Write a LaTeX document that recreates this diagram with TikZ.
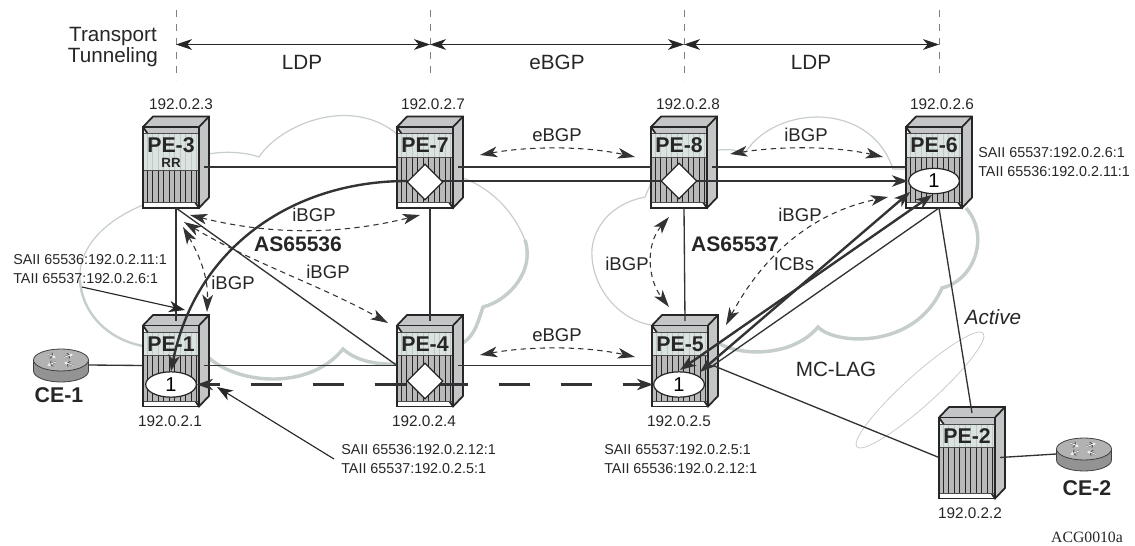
\documentclass[tikz,border=0pt]{standalone}
\usepackage{fontspec}
\setmainfont{Liberation Sans}
\newfontfamily\acgfont{Liberation Serif}
\usetikzlibrary{arrows.meta,shapes.geometric}

\definecolor{linkdark}{HTML}{333335}
\definecolor{cloudgray}{HTML}{C6CECB}
\definecolor{boxgray}{HTML}{C4C5C6}
\definecolor{boxlight}{HTML}{D9E3E0}

\newcommand{\pebox}[5][-10.5]{%
  \begin{scope}[shift={(#3,#4)}]
    \filldraw[boxline, fill=boxgray] (-28,-40.5) -- (-18,-51) -- (38,-51) -- (38,30) -- (28,40.5) -- cycle;
    \draw[boxline] (28,-40.5) -- (38,-51);
    \node[pebody] (#2) at (0,0) {};
    \fill[boxlight] (-27,-34) rectangle (27,#1);
    \fill[gray!55] (-27,#1) rectangle (27,35);
    \foreach \sx in {-24,-18.5,...,26} {
      \draw[line width=.35pt, gray!45] (\sx,-34) -- (\sx,#1);
      \draw[line width=.6pt, black!85] (\sx,#1) -- (\sx,35);
    }
    \draw[line width=.4pt, black!70] (-28,-34) -- (28,-34);
    \draw[line width=.4pt, black!70] (-28,#1) -- (28,#1);
    \draw[line width=.4pt, black!70] (-28,35) -- (28,35);
    \draw[boxline] (-28,-40.5) rectangle (28,40.5);
    \node[pelabel] (#2-name) at (0,-22) {#5};
    \coordinate (#2-top) at (5,-45);
    \coordinate (#2-bot) at (5,40.5);
    \coordinate (#2-port) at (33,-0.5);
    \coordinate (#2-left) at (-28,-0.5);
  \end{scope}}

\newcommand{\cerouter}[3]{%
  \begin{scope}[shift={(#2,#3)}]
    \draw[cedge, fill=gray!85] (0,6) ellipse [x radius=27.5, y radius=11];
    \fill[gray!85] (-27.5,-5) rectangle (27.5,6);
    \draw[cedge] (-27.5,-5) -- (-27.5,6) (27.5,-5) -- (27.5,6);
    \draw[cedge, fill=gray!60] (0,-5) ellipse [x radius=27.5, y radius=11];
    \foreach \ax/\ay/\bx/\by in {-14/-11/-5/-7.5, 3/-7.5/12/-11, -5/-3/-14/0.5, 12/0.5/3/-3} {
      \draw[line width=1.3pt, black!65, -{Stealth[length=4.5pt,width=5pt]}] (\ax,\ay) -- (\bx,\by);
      \draw[line width=.7pt, white!90!gray, -{Stealth[length=3pt,width=3.5pt]}] (\ax,\ay) -- (\bx,\by);
    }
    \node[cebody] (#1) at (0,0) {};
  \end{scope}}

\begin{document}
\begin{tikzpicture}[
  x=0.75pt, y=-0.75pt,
  boxline/.style={line width=1.3pt, draw=black!85},
  pebody/.style={rectangle, minimum width=42pt, minimum height=60.75pt, inner sep=0pt},
  pelabel/.style={font=\fontsize{16}{17}\selectfont\bfseries, text=black!85, inner sep=0pt},
  cebody/.style={rectangle, minimum width=41.25pt, minimum height=24.75pt, inner sep=0pt},
  cedge/.style={line width=.6pt, draw=black!75},
  loopback/.style={font=\fontsize{11.5}{13}\selectfont, text=black!85, inner sep=0pt},
  bgplabel/.style={font=\fontsize{13.9}{16}\selectfont, text=black!85, inner sep=0pt},
  biglabel/.style={font=\fontsize{15.5}{15.75}\selectfont, text=black!85, inner sep=0pt},
  aslabel/.style={font=\fontsize{15.8}{18}\selectfont\bfseries, text=black!85, inner sep=0pt},
  aiilabel/.style={font=\fontsize{10.75}{14.25}\selectfont, text=black!85, inner sep=0pt, align=left, anchor=west},
  diamondsdp/.style={diamond, draw=black!85, line width=.9pt, fill=white, minimum width=27pt, minimum height=27pt, inner sep=0pt},
  ellipsepw/.style={ellipse, draw=black!85, line width=.9pt, fill=white, minimum width=38pt, minimum height=19pt, inner sep=0pt,
    font=\fontsize{15}{17}\selectfont},
  cloudthin/.style={draw=cloudgray, line width=.9pt},
  cloudthick/.style={draw=cloudgray, line width=2.6pt},
  link/.style={draw=linkdark, line width=1pt},
  scale bar/.style={draw=black!85, line width=.75pt, {Stealth[length=12pt,width=8pt,inset=3.5pt]}-{Stealth[length=12pt,width=8pt,inset=3.5pt]}},
  bgparr/.style={draw=linkdark, line width=.8pt, dash pattern=on 4pt off 3.2pt,
    {Stealth[length=13pt,width=8pt,inset=3.5pt,fill=linkdark]}-{Stealth[length=13pt,width=8pt,inset=3.5pt,fill=linkdark]}},
  spoke/.style={draw=linkdark, line width=1.8pt},
  tipboth/.style={{Stealth[length=12pt,width=8.5pt,inset=3.5pt]}-{Stealth[length=12pt,width=8.5pt,inset=3.5pt]}},
  tipend/.style={-{Stealth[length=12pt,width=8.5pt,inset=3.5pt]}},
  callout/.style={draw=black!85, line width=.85pt, tipend},
]
\useasboundingbox (0,0) rectangle (1135,546);

% clouds
\draw[cloudthin] (209,154) .. controls (225,151) and (245,152) .. (259,157)
  .. controls (280,125) and (350,95) .. (397,134);
\draw[cloudthin] (143,205) .. controls (95,225) and (78,255) .. (80,280);
\draw[cloudthick, line width=1.8pt] (80,280) .. controls (82,315) and (110,340) .. (143,346);
\draw[cloudthick] (209,358) .. controls (240,385) and (310,390) .. (343,349)
  .. controls (355,360) and (375,365) .. (397,364);
\draw[cloudthin] (463,178) .. controls (495,190) and (515,215) .. (525,240);
\draw[cloudthick] (525,240) .. controls (535,270) and (510,300) .. (483,307)
  .. controls (478,322) and (475,335) .. (463,343);
\draw[cloudthin] (651,183) -- (645,197) .. controls (605,205) and (590,235) .. (592,257)
  .. controls (594,290) and (620,320) .. (651,325);
\draw[cloudthick] (718,343) .. controls (745,358) and (795,355) .. (818,327)
  .. controls (835,345) and (915,350) .. (942,288)
  .. controls (975,280) and (990,235) .. (966,208);
\draw[cloudthin] (718,150) .. controls (728,149) and (738,150) .. (745,153)
  .. controls (775,105) and (870,100) .. (893,169) -- (906,169);
\node[draw=cloudgray, line width=.6pt, ellipse, minimum width=127.5pt, minimum height=23pt, inner sep=0pt, rotate=42] (mclag) at (920,390) {};

% transport
\draw[draw=gray, line width=.75pt, dash pattern=on 5.5pt off 5pt] (176,10) -- (176,80)
  (430,10) -- (430,80) (684,10) -- (684,80) (939,10) -- (939,80);
\coordinate (tr1) at (176,44.5);
\coordinate (tr2) at (430,44.5);
\coordinate (tr3) at (684,44.5);
\coordinate (tr4) at (939,44.5);
\draw[scale bar] (tr1) -- (tr2);
\draw[scale bar] (tr2) -- (tr3);
\draw[scale bar] (tr3) -- (tr4);

% boxes
\pebox[3]{pe3}{171}{167.5}{PE-3}
\pebox{pe7}{425}{167.5}{PE-7}
\pebox{pe8}{679}{167.5}{PE-8}
\pebox{pe6}{934}{167.5}{PE-6}
\pebox{pe1}{171}{366}{PE-1}
\pebox{pe4}{425}{366}{PE-4}
\pebox{pe5}{680}{366}{PE-5}
\pebox{pe2}{967}{458}{PE-2}
\cerouter{ce1}{61}{365}
\cerouter{ce2}{1084}{454}
\node[loopback] (rr) at (171,163) {\fontsize{10}{12}\selectfont\bfseries RR};

% links
\draw[link] (ce1.east) -- (pe1-left);
\draw[link] (pe1-port) -- (pe4-left);
\draw[link] (pe4-port) -- (pe5-left);
\draw[link] (pe3-port) -- (pe7-left);
\draw[link] (pe7-port) -- (pe8-left);
\draw[link] (pe8-port) -- (pe6-left);
\draw[link] (pe3-bot) -- (pe1-top);
\draw[link] (pe7-bot) -- (pe4-top);
\draw[link] (pe8-bot) -- (pe5-top);
\draw[link] (pe3-bot) -- (pe4-left);
\draw[link] (pe6-bot) -- (pe5-port);
\draw[link] (pe6-bot) -- (pe2-top);
\draw[link] (pe5-port) -- (pe2-left);
\draw[link] (pe2-port) -- (ce2.west);

% spoke sdps
\node[ellipsepw] (sp1) at (171,384.5) {1};
\node[ellipsepw] (sp5) at (679,384.5) {1};
\node[ellipsepw] (sp6) at (934,181) {1};
\coordinate (ic1) at (680,370);
\coordinate (ic2) at (700,372);
\coordinate (ic3) at (910,192);
\coordinate (ic4) at (932,195);
\draw[spoke, tipend] (407,181) .. controls (290,181) and (195,250) .. (sp1.north);
\draw[spoke, tipend] (407,181) -- (sp6.west);
\draw[spoke, tipboth] (ic1) -- (ic4);
\draw[spoke, tipboth] (ic2) -- (ic3);
\draw[spoke, dash pattern=on 23.25pt off 23.25pt, dash phase=14pt, tipboth] (sp1.east) -- (sp5.west);
\node[diamondsdp] (d7) at (425,182) {};
\node[diamondsdp] (d8) at (679,181) {};
\node[diamondsdp] (d4) at (425,381) {};

% bgp sessions
\coordinate (b1) at (480,155);  \coordinate (b2) at (635,157);
\coordinate (b3) at (480,355);  \coordinate (b4) at (635,357);
\coordinate (b5) at (730,154);  \coordinate (b6) at (883,157);
\coordinate (b7) at (190,215);  \coordinate (b8) at (420,215);
\coordinate (b9) at (184,222);  \coordinate (b10) at (388,323);
\coordinate (b11) at (183,227); \coordinate (b12) at (207,312);
\coordinate (b13) at (669,217); \coordinate (b14) at (669,307);
\coordinate (b15) at (726,325); \coordinate (b16) at (888,197);
\draw[bgparr] (b1) .. controls (530,146) and (585,146) .. (b2);
\draw[bgparr] (b3) .. controls (530,346) and (585,346) .. (b4);
\draw[bgparr] (b5) .. controls (780,146) and (835,146) .. (b6);
\draw[bgparr] (b7) .. controls (270,235) and (340,235) .. (b8);
\draw[bgparr] (b9) .. controls (250,262) and (320,285) .. (b10);
\draw[bgparr] (b11) .. controls (205,265) and (208,285) .. (b12);
\draw[bgparr] (b13) .. controls (645,245) and (648,280) .. (b14);
\draw[bgparr] (b15) .. controls (755,270) and (800,215) .. (b16);

% callouts
\coordinate (cf1) at (82,287);
\coordinate (cf2) at (334,459);
\draw[callout] (cf1) -- (185,310);
\draw[callout] (cf2) -- (217,387);

% labels
\node[biglabel, align=center] (transport) at (113,47) {Transport\\Tunneling};
\node[biglabel] (ldpa) at (302,62) {LDP};
\node[biglabel] (ebgpt) at (557,62) {eBGP};
\node[biglabel] (ldpb) at (811,62) {LDP};
\node[loopback] (ip3) at (181,104) {192.0.2.3};
\node[loopback] (ip7) at (433,104) {192.0.2.7};
\node[loopback] (ip8) at (688,104) {192.0.2.8};
\node[loopback] (ip6) at (942,104) {192.0.2.6};
\node[loopback] (ip1) at (170,421) {192.0.2.1};
\node[loopback] (ip4) at (424,421) {192.0.2.4};
\node[loopback] (ip5) at (679,421) {192.0.2.5};
\node[loopback] (ip2) at (970,513) {192.0.2.2};
\node[bgplabel] (s1) at (557,135) {eBGP};
\node[bgplabel] (s2) at (557,335) {eBGP};
\node[bgplabel] (s3) at (806,135) {iBGP};
\node[bgplabel] (s4) at (314,215) {iBGP};
\node[bgplabel] (s5) at (328,272) {iBGP};
\node[bgplabel] (s6) at (233,283) {iBGP};
\node[bgplabel] (s7) at (627,264) {iBGP};
\node[bgplabel] (s8) at (800,215) {iBGP};
\node[bgplabel] (icbs) at (794,264) {ICBs};
\node[aslabel] (as1) at (298,244) {AS65536};
\node[aslabel] (as2) at (735,244) {AS65537};
\node[pelabel] (ce1name) at (59,395) {CE-1};
\node[pelabel] (ce2name) at (1087,488) {CE-2};
\node[biglabel] (mclagname) at (836,369) {MC-LAG};
\node[biglabel, font=\fontsize{15.5}{17}\selectfont\itshape] (active) at (993,317) {Active};
\node[aiilabel] (a1) at (13,269.5) {SAII 65536:192.0.2.11:1\\TAII 65537:192.0.2.6:1};
\node[aiilabel] (a2) at (978,162) {SAII 65537:192.0.2.6:1\\TAII 65536:192.0.2.11:1};
\node[aiilabel] (a3) at (341,459) {SAII 65536:192.0.2.12:1\\TAII 65537:192.0.2.5:1};
\node[aiilabel] (a4) at (604,459) {SAII 65537:192.0.2.5:1\\TAII 65536:192.0.2.12:1};
\node[inner sep=0pt, text=black!85, font=\acgfont\fontsize{11.8}{13}\selectfont] (acg) at (1087,537) {ACG0010a};
\end{tikzpicture}
\end{document}
